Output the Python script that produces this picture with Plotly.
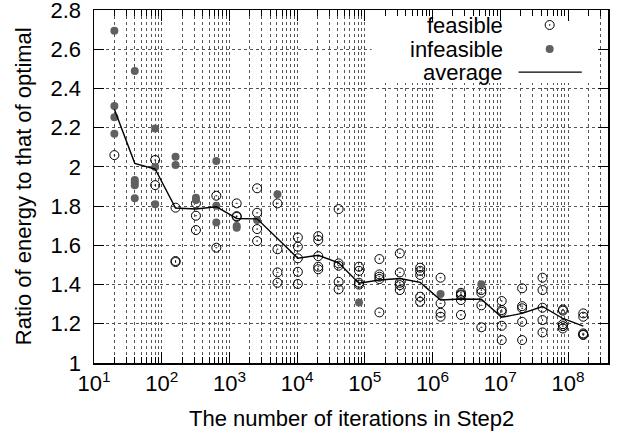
import plotly.graph_objects as go

# ---------------- data ----------------
iterations = [20, 40, 80, 160, 320, 640, 1280, 2560, 5120, 10240, 20480, 40960,
              81920, 163840, 327680, 655360, 1310720, 2621440, 5242880,
              10485760, 20971520, 41943040, 83886080, 167772160]

feasible = [
    [2.06],
    [],
    [2.035, 1.907],
    [1.792, 1.52, 1.515],
    [1.814, 1.751, 1.678],
    [1.853, 1.588],
    [1.814, 1.749, 1.745],
    [1.891, 1.766, 1.683, 1.622],
    [1.814, 1.58, 1.462, 1.409],
    [1.64, 1.593, 1.534, 1.465, 1.403],
    [1.647, 1.627, 1.545, 1.491, 1.478],
    [1.785, 1.508, 1.496, 1.414, 1.376],
    [1.491, 1.47, 1.409, 1.40],
    [1.53, 1.452, 1.44, 1.428, 1.258],
    [1.559, 1.462, 1.409, 1.397, 1.372],
    [1.486, 1.47, 1.449, 1.338, 1.312],
    [1.435, 1.304, 1.256, 1.236],
    [1.358, 1.35, 1.345, 1.321, 1.245],
    [1.372, 1.358, 1.294, 1.182],
    [1.316, 1.27, 1.261, 1.19, 1.117],
    [1.381, 1.29, 1.279, 1.21, 1.117],
    [1.435, 1.372, 1.282, 1.219, 1.156],
    [1.273, 1.267, 1.198, 1.188, 1.176],
    [1.253, 1.236, 1.151, 1.145, 1.143],
]

infeasible = [
    [2.694, 2.31, 2.253, 2.169],
    [2.489, 1.933, 1.92, 1.907, 1.84],
    [2.196, 2.0, 1.809],
    [2.052, 2.01],
    [1.843, 1.831],
    [2.03, 1.802, 1.717],
    [1.698, 1.69],
    [1.729],
    [1.86],
    [], [], [],
    [1.309],
    [], [], [],
    [1.352],
    [],
    [1.401],
    [], [], [], [], [],
]

average = [2.294, 2.018, 1.989, 1.79, 1.785, 1.797, 1.737, 1.735, 1.635, 1.534,
           1.549, 1.511, 1.407, 1.423, 1.431, 1.411, 1.321, 1.326, 1.325, 1.233,
           1.253, 1.288, 1.227, 1.188]

x_tick_vals = [1e1, 1e2, 1e3, 1e4, 1e5, 1e6, 1e7, 1e8]
x_tick_text = ["10<sup>1</sup>", "10<sup>2</sup>", "10<sup>3</sup>", "10<sup>4</sup>",
               "10<sup>5</sup>", "10<sup>6</sup>", "10<sup>7</sup>", "10<sup>8</sup>"]
legend_labels = ["feasible", "infeasible", "average"]

# ---------------- build ----------------
fx, fy, ix, iy = [], [], [], []
for it, vals in zip(iterations, feasible):
    fx += [it] * len(vals)
    fy += vals
for it, vals in zip(iterations, infeasible):
    ix += [it] * len(vals)
    iy += vals

FONT = "Liberation Sans, Arial, sans-serif"
FS = 22
GRAY = "#606060"
GRID = "#555555"

fig = go.Figure()
fig.add_trace(go.Scatter(x=fx, y=fy, mode="markers", showlegend=False,
                         marker=dict(symbol="circle-open-dot", size=9, color="black",
                                     line=dict(width=1, color="black"))))
fig.add_trace(go.Scatter(x=ix, y=iy, mode="markers", showlegend=False,
                         marker=dict(symbol="circle", size=8, color=GRAY,
                                     line=dict(width=0))))
fig.add_trace(go.Scatter(x=iterations, y=average, mode="lines", showlegend=False,
                         line=dict(color="black", width=1.4)))

# legend box (opaque, no border) and keys, gnuplot style: text left, key right
box_x = [0.54, 0.978, 0.978, 0.54, 0.54]
box_y = [0.793, 0.793, 0.997, 0.997, 0.793]
fig.add_trace(go.Scatter(x=box_x, y=box_y, xaxis="x2", yaxis="y2", mode="lines",
                         fill="toself", fillcolor="white", line=dict(width=0, color="white"),
                         showlegend=False, hoverinfo="skip"))
key_y = [0.9575, 0.8895, 0.824]
fig.add_trace(go.Scatter(x=[0.8865], y=[key_y[0]], xaxis="x2", yaxis="y2", mode="markers",
                         showlegend=False, hoverinfo="skip",
                         marker=dict(symbol="circle-open-dot", size=9, color="black",
                                     line=dict(width=1, color="black"))))
fig.add_trace(go.Scatter(x=[0.8865], y=[key_y[1]], xaxis="x2", yaxis="y2", mode="markers",
                         showlegend=False, hoverinfo="skip",
                         marker=dict(symbol="circle", size=8, color=GRAY, line=dict(width=0))))
fig.add_trace(go.Scatter(x=[0.826, 0.949], y=[key_y[2], key_y[2]], xaxis="x2", yaxis="y2",
                         mode="lines", showlegend=False, hoverinfo="skip",
                         line=dict(color="black", width=1.4)))

annotations = []
for lab, yy in zip(legend_labels, key_y):
    annotations.append(dict(text=lab, x=0.799, y=yy, xref="paper", yref="paper",
                            xanchor="right", yanchor="middle", showarrow=False,
                            font=dict(size=FS, color="black", family=FONT)))
annotations.append(dict(text="The number of iterations in Step2", x=0.5, y=-0.156,
                        xref="paper", yref="paper", xanchor="center", yanchor="middle",
                        showarrow=False, font=dict(size=FS, color="black", family=FONT)))
annotations.append(dict(text="Ratio of energy to that of optimal", x=-0.138, y=0.501,
                        xref="paper", yref="paper", xanchor="center", yanchor="middle",
                        textangle=-90, showarrow=False,
                        font=dict(size=FS, color="black", family=FONT)))

fig.update_layout(
    width=621, height=434,
    margin=dict(l=94, r=13, t=10, b=71),
    paper_bgcolor="white", plot_bgcolor="white",
    font=dict(family=FONT, size=FS, color="black"),
    showlegend=False,
    hovermode=False,
    annotations=annotations,
    xaxis=dict(type="log", range=[1, 8.59], tickvals=x_tick_vals, ticktext=x_tick_text,
               automargin=False, ticklabeloverflow="allow",
               ticks="inside", ticklen=11, tickwidth=1, tickcolor="black",
               showline=True, linecolor="black", linewidth=1.5, mirror="allticks",
               showgrid=True, gridcolor=GRID, griddash="dot", gridwidth=1,
               zeroline=False,
               minor=dict(ticks="inside", ticklen=6, tickwidth=1, tickcolor="black",
                          showgrid=True, gridcolor=GRID, griddash="dot", gridwidth=1,
                          dtick="D1"),
               tickfont=dict(size=FS, family=FONT)),
    yaxis=dict(range=[1, 2.8], dtick=0.2, tick0=1, automargin=False,
               ticklabeloverflow="allow",
               ticks="inside", ticklen=10, tickwidth=1, tickcolor="black",
               showline=True, linecolor="black", linewidth=1.5, mirror="allticks",
               showgrid=True, gridcolor=GRID, griddash="dot", gridwidth=1,
               zeroline=False, ticklabelstandoff=7,
               tickfont=dict(size=FS, family=FONT)),
    xaxis2=dict(overlaying="x", range=[0, 1], visible=False, anchor="y2", automargin=False),
    yaxis2=dict(overlaying="y", range=[0, 1], visible=False, anchor="x2", automargin=False),
)

fig.write_html("out.html", config={"displayModeBar": False, "staticPlot": True},
               post_script="document.body.style.margin='0';document.body.style.overflow='hidden';")
